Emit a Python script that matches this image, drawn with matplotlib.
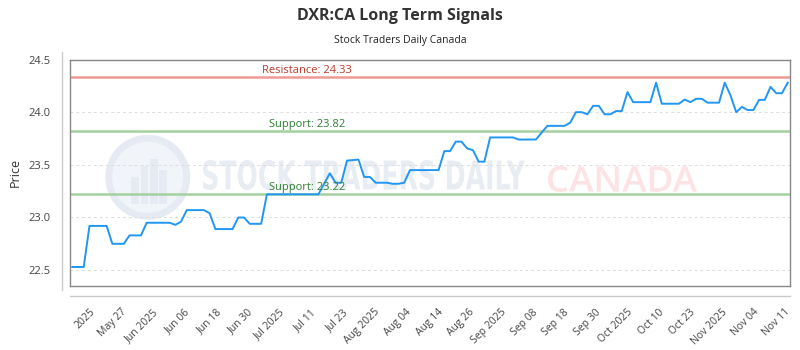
import numpy as np
import matplotlib
matplotlib.use('Agg')
import matplotlib.pyplot as plt
from matplotlib.lines import Line2D
from matplotlib.patches import Ellipse, PathPatch
from matplotlib.textpath import TextPath
from matplotlib.font_manager import FontProperties
from matplotlib.transforms import Affine2D

# ---- data ----
prices = [
    22.53, 22.53, 22.53, 22.92, 22.92, 22.92, 22.92, 22.75, 22.75, 22.75,
    22.83, 22.83, 22.83, 22.95, 22.95, 22.95, 22.95, 22.95, 22.93, 22.96,
    23.07, 23.07, 23.07, 23.07, 23.04, 22.89, 22.89, 22.89, 22.89, 23.00,
    23.00, 22.94, 22.94, 22.94, 23.22, 23.22, 23.22, 23.22, 23.22, 23.22,
    23.22, 23.22, 23.22, 23.22, 23.32, 23.42, 23.33, 23.33, 23.54, 23.545,
    23.55, 23.385, 23.385, 23.33, 23.33, 23.33, 23.32, 23.32, 23.33, 23.45,
    23.45, 23.45, 23.45, 23.45, 23.45, 23.63, 23.63, 23.72, 23.72, 23.655,
    23.64, 23.53, 23.53, 23.76, 23.76, 23.76, 23.76, 23.76, 23.74, 23.74,
    23.74, 23.74, 23.805, 23.87, 23.87, 23.87, 23.87, 23.90, 24.00, 24.00,
    23.98, 24.06, 24.06, 23.98, 23.98, 24.01, 24.01, 24.19, 24.095, 24.095,
    24.095, 24.095, 24.28, 24.08, 24.08, 24.08, 24.08, 24.12, 24.095, 24.127,
    24.127, 24.09, 24.09, 24.09, 24.28, 24.16, 24.00, 24.05, 24.02, 24.02,
    24.117, 24.117, 24.24, 24.18, 24.18, 24.28,
]
tick_labels = ["2025", "May 27", "Jun 2025", "Jun 06", "Jun 18", "Jun 30",
               "Jul 2025", "Jul 11", "Jul 23", "Aug 2025", "Aug 04", "Aug 14",
               "Aug 26", "Sep 2025", "Sep 08", "Sep 18", "Sep 30", "Oct 2025",
               "Oct 10", "Oct 23", "Nov 2025", "Nov 04", "Nov 11"]
resistance = 24.33
supports = [23.82, 23.22]
y_ticks = [22.5, 23.0, 23.5, 24.0, 24.5]

plt.rcParams['font.family'] = ['Open Sans', 'DejaVu Sans']

W, H = 800, 350
fig = plt.figure(figsize=(8, 3.5), dpi=100)
ax = fig.add_axes([0.0875, 0.183, 0.9, 0.647])

x = np.arange(len(prices))
tick_pos = np.linspace(3.0, 124.5, len(tick_labels))


def watermark_text(s, x0, x1, ytop, ybot, color, weight='normal', family='DejaVu Sans'):
    tp = TextPath((0, 0), s, size=1, prop=FontProperties(family=family, weight=weight))
    bb = tp.get_extents()
    tr = (Affine2D().translate(-bb.x0, -bb.y0)
          .scale((x1 - x0) / bb.width, (ybot - ytop) / bb.height)
          .translate(x0, H - ybot))
    ax.add_patch(PathPatch(tp, transform=tr, facecolor=color, edgecolor='none',
                           zorder=0, clip_on=False))


# watermark
ax.add_patch(Ellipse((0.108, 0.48), 78 / 720, 78 / 226.5, transform=ax.transAxes,
                     facecolor='#f1f4f9', edgecolor='#e6ebf3', lw=5, zorder=0))
for bx, bh in [(0.085, 0.12), (0.098, 0.17), (0.111, 0.2), (0.124, 0.15)]:
    ax.add_patch(plt.Rectangle((bx, 0.36), 0.011, bh, transform=ax.transAxes,
                               facecolor='#e6ebf3', edgecolor='none', zorder=0))
watermark_text('STOCK TRADERS DAILY', 203, 525, 160, 190, '#e8ecf3', weight='bold')
watermark_text('CANADA', 548, 697, 166, 192, '#fde3e3', weight='semibold',
               family='Open Sans')

# levels
ax.axhline(resistance, color='#f09a96', lw=1.8, zorder=2)
for s in supports:
    ax.axhline(s, color='#a3d1a0', lw=1.8, zorder=2)
ax.text(41, resistance + 0.015, f'Resistance: {resistance:.2f}', ha='center',
        va='bottom', fontsize=8, color='#c0392b', zorder=4)
for s in supports:
    ax.text(41, s + 0.015, f'Support: {s:.2f}', ha='center', va='bottom',
            fontsize=8, color='#2e7d32', zorder=4)

# price line
ax.plot(x, prices, color='#2196f3', lw=1.4, zorder=3)

ax.set_xlim(-0.4, len(prices) - 0.6)
ax.set_ylim(22.35, 24.5)
ax.set_yticks(y_ticks)
ax.set_yticklabels([f'{v:.1f}' for v in y_ticks])
ax.set_xticks(tick_pos)
ax.set_xticklabels(tick_labels, rotation=45, ha='right', rotation_mode='anchor')
ax.tick_params(axis='both', length=0, labelsize=7.5, colors='#444444')
ax.tick_params(axis='y', pad=14, labelsize=8)
ax.tick_params(axis='x', pad=15)
ax.grid(axis='y', color='#dddddd', ls=(0, (3, 3)), lw=0.7)
for sp in ax.spines.values():
    sp.set_color('#888888')
    sp.set_linewidth(1.0)

# offset axis lines
fig.add_artist(Line2D([62 / W, 62 / W], [1 - 52 / H, 1 - 290 / H],
                      color='#cccccc', lw=1))
fig.add_artist(Line2D([70 / W, 790 / W], [1 - 296 / H, 1 - 296 / H],
                      color='#cccccc', lw=1))

fig.text(0.5, 1 - 16 / H, 'DXR:CA Long Term Signals', ha='center', va='center',
         fontsize=11.5, fontweight='bold', color='#333333')
fig.text(0.5, 1 - 40 / H, 'Stock Traders Daily Canada', ha='center',
         va='center', fontsize=7.5, color='#222222')
fig.text(15 / W, 1 - 172 / H, 'Price', rotation=90, ha='center',
         va='center', fontsize=9, color='#333333')

fig.savefig('out.png', dpi=100)
